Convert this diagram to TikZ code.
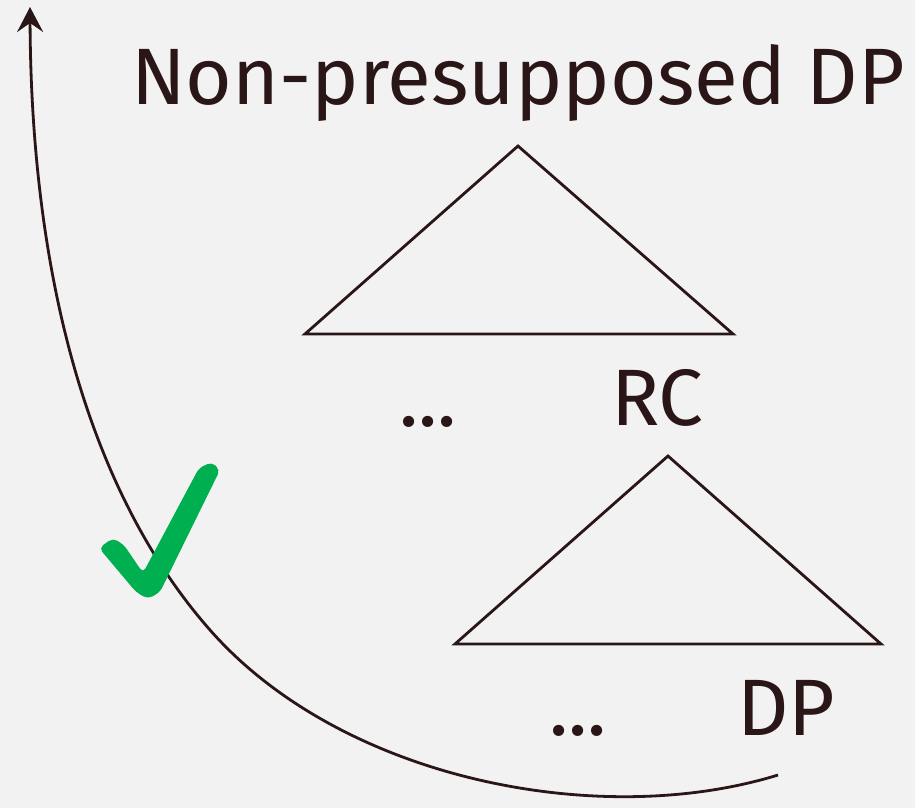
\documentclass[tikz,border=0pt]{standalone}
\usepackage{fontspec}
\setmainfont{Fira Sans}
\usepackage{tikz}
\usetikzlibrary{arrows.meta, positioning}
\definecolor{ink}{HTML}{2A1616}
\definecolor{paper}{HTML}{F2F2F2}
\definecolor{okgreen}{HTML}{00B050}
\tikzstyle{word} = [inner sep=0, anchor=base west, text=ink, font=\fontsize{80}{96}\selectfont]
\tikzstyle{tri} = [draw=ink, line width=2.8pt, line join=miter]
\tikzstyle{move} = [draw=ink, line width=2.8pt, -{Stealth[length=25pt, width=26pt, inset=9pt]}]

\begin{document}
\begin{tikzpicture}[x=1pt, y=-1pt]
					\fill[paper] (0, 0) rectangle (915, 808);
					\useasboundingbox (0, 0) rectangle (915, 808);

					\node (Top) [word] at (131, 104) {Non-presupposed DP};

					\coordinate (TopApex) at (518, 146);
					\coordinate (TopLeft) at (305, 334);
					\coordinate (TopRight) at (733, 334);
					\draw [tri] (TopApex) -- (TopLeft) -- (TopRight) -- cycle;

					\node (TopDots) [word] at (399, 426) {...};
					\node (RC) [word] at (611, 425) {RC};

					\coordinate (LowApex) at (668, 456);
					\coordinate (LowLeft) at (455, 644);
					\coordinate (LowRight) at (881, 644);
					\draw [tri] (LowApex) -- (LowLeft) -- (LowRight) -- cycle;

					\node (LowDots) [word] at (549, 735) {...};
					\node (DP) [word] at (737, 735) {DP};

					% movement path
					\coordinate (Gap) at (778, 775);
					\coordinate (Bend) at (210, 630);
					\coordinate (Landing) at (30, 7);
					\draw [move] (Gap) .. controls (600, 830) and (342, 780) .. (Bend)
						.. controls (78, 480) and (31, 250) .. (Landing);

					% check mark
					\fill [okgreen, rounded corners=5pt] (99, 548) -- (113, 538) -- (124, 545) -- (143, 573)
						-- (199, 468) -- (212, 462) -- (220, 470) -- (160, 592) -- (148, 599) -- (136, 592) -- cycle;
				\end{tikzpicture}
\end{document}
